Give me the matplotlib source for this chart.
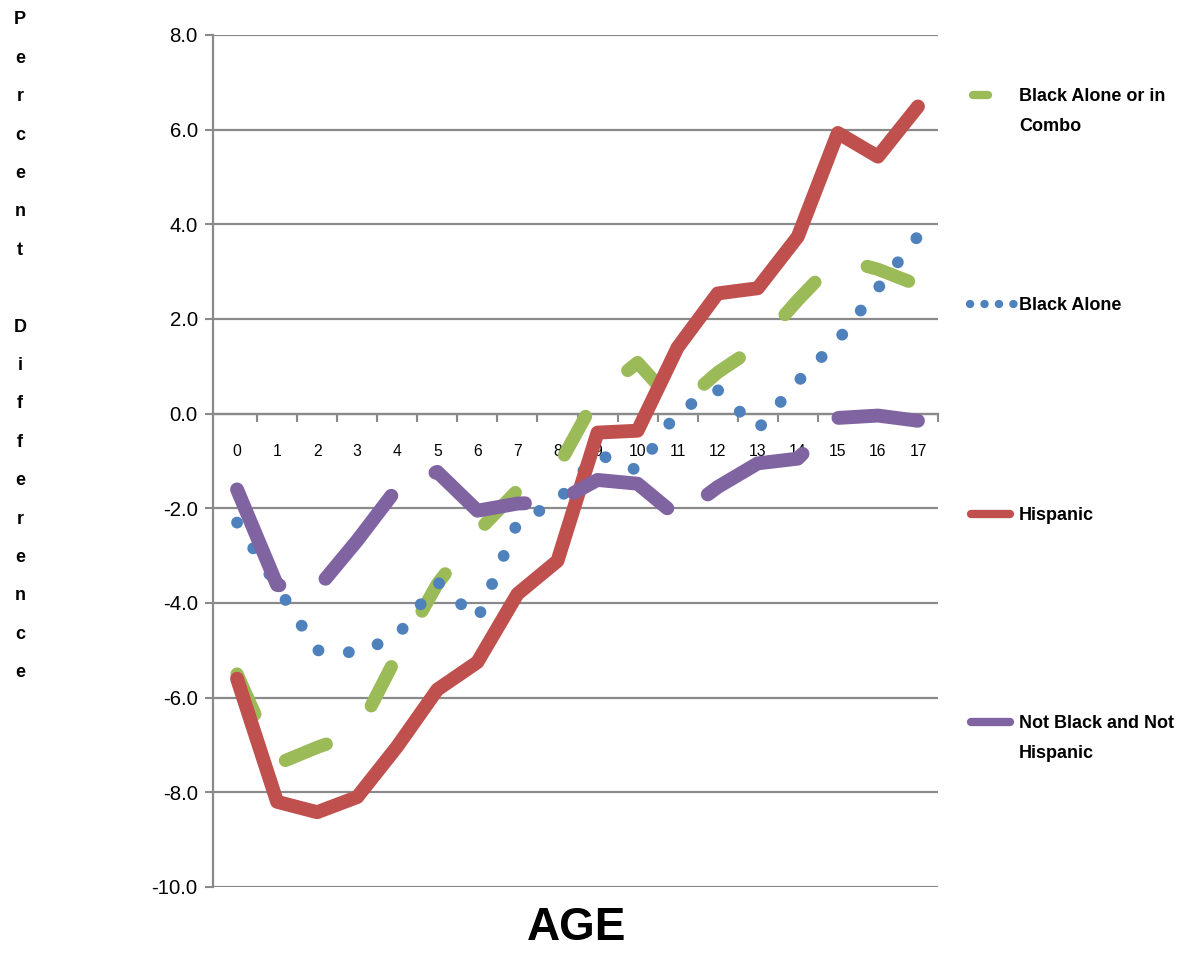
import matplotlib
matplotlib.use('Agg')
import matplotlib.pyplot as plt
from matplotlib import font_manager
from matplotlib.lines import Line2D
import numpy as np

# ---------------- data ----------------
ages = list(range(18))
age_labels = [str(a) for a in ages]
black_combo = [-5.5, -7.4, -7.05, -6.75, -5.1, -3.6, -2.5, -1.62, -1.14, 0.4,
               1.08, 0.14, 0.87, 1.44, 2.4, 3.28, 3.05, 2.72]
black_alone = [-2.3, -3.65, -5.0, -5.05, -4.7, -3.55, -4.35, -2.3, -1.85, -0.85,
               -1.2, 0.05, 0.5, -0.33, 0.68, 1.55, 2.65, 3.75]
hispanic = [-5.6, -8.2, -8.42, -8.1, -7.03, -5.83, -5.25, -3.81, -3.11, -0.4,
            -0.36, 1.4, 2.54, 2.65, 3.74, 5.93, 5.43, 6.49]
not_black_not_hisp = [-1.6, -3.62, -3.7, -2.68, -1.57, -1.23, -2.05, -1.9, -1.86, -1.4,
                      -1.48, -2.18, -1.55, -1.05, -0.95, -0.09, -0.04, -0.15]
series_labels = ['Black Alone or in\nCombo', 'Black Alone', 'Hispanic',
                 'Not Black and Not\nHispanic']
y_ticks = [-10.0, -8.0, -6.0, -4.0, -2.0, 0.0, 2.0, 4.0, 6.0, 8.0]
y_label = 'Percent Difference'
x_label = 'AGE'

# ---------------- fonts ----------------
names = {f.name for f in font_manager.fontManager.ttflist}
if 'Liberation Sans Narrow' in names:
    FONT = 'Liberation Sans Narrow'
    k = 1.0
else:
    FONT = 'Liberation Sans'
    k = 0.84
plt.rcParams['font.family'] = [FONT, 'DejaVu Sans']
plt.rcParams['lines.scale_dashes'] = False

GREEN = '#9BBB59'
BLUE = '#4F81BD'
RED = '#C0504D'
PURPLE = '#8064A2'
GRID = '#8A8A8A'

W, H = 1191, 960
fig = plt.figure(figsize=(W / 100, H / 100), dpi=100)
ax = fig.add_axes([213 / W, 1 - 887 / H, 725 / W, 852 / H])

x = np.arange(len(ages))
common = dict(dash_capstyle='round', solid_capstyle='round',
              dash_joinstyle='round', solid_joinstyle='round')
ax.plot(x, black_combo, color=GREEN, lw=9.5, linestyle=(0, (31.7, 45.7)),
        zorder=3, **common)
ax.plot(x, black_alone, color=BLUE, lw=8.5, linestyle=(0, (0.1, 21.8)),
        zorder=4, **common)
ax.plot(x, hispanic, color=RED, lw=10.0, zorder=5, **common)
ax.plot(x, not_black_not_hisp, color=PURPLE, lw=10.0,
        linestyle=(0, (76.3, 36.7)), zorder=6, **common)

ax.set_xlim(-0.6, len(ages) - 0.5)
ax.set_ylim(-10, 8)

# y axis
ax.set_yticks(y_ticks)
ax.set_yticklabels([f'{v:.1f}' for v in y_ticks])
ax.tick_params(axis='y', direction='out', length=6, width=1.5, color=GRID,
               labelsize=17.5 * k, pad=5)
ax.yaxis.grid(True, color=GRID, lw=1.6)
ax.set_axisbelow(True)

# x axis through zero
for s in ['top', 'right']:
    ax.spines[s].set_visible(False)
ax.spines['left'].set_color(GRID)
ax.spines['left'].set_linewidth(1.6)
ax.spines['bottom'].set_position(('data', 0))
ax.spines['bottom'].set_color(GRID)
ax.spines['bottom'].set_linewidth(1.6)
ax.set_xticks(np.arange(0.5, len(ages), 1.0))
ax.set_xticklabels([])
ax.set_xticks(x, minor=True)
ax.set_xticklabels(age_labels, minor=True)
ax.tick_params(axis='x', which='major', direction='out', length=6, width=1.5,
               color=GRID)
ax.tick_params(axis='x', which='minor', length=0, labelsize=13.5 * k, pad=22)

# stacked vertical y-label
chars = list(y_label)
for i, ch in enumerate(chars):
    if ch.strip():
        fig.text(20 / W, 1 - (20 + i * 38.4) / H, ch, ha='center', va='center',
                 fontsize=13, fontweight='bold')

# x label
fig.text(577 / W, 1 - 928 / H, x_label, ha='center', va='center',
         fontsize=33, fontweight='bold')

# legend (manual)
leg_y = [95, 304, 514, 722]
styles = [
    dict(color=GREEN, xs=(973, 988), ls='-'),
    dict(color=BLUE, xs=(970, 1014), ls=(0, (0.1, 10.3))),
    dict(color=RED, xs=(971, 1010), ls='-'),
    dict(color=PURPLE, xs=(971, 1010), ls='-'),
]
for yy, st, lab in zip(leg_y, styles, series_labels):
    yf = 1 - yy / H
    fig.add_artist(Line2D([st['xs'][0] / W, st['xs'][1] / W], [yf, yf],
                          transform=fig.transFigure, color=st['color'], lw=6,
                          linestyle=st['ls'], **common))
    fig.text(1019 / W, 1 - (yy - 7) / H, lab, ha='left', va='top',
             fontsize=13, fontweight='bold', linespacing=2.0)

fig.savefig('out.png', dpi=100)
